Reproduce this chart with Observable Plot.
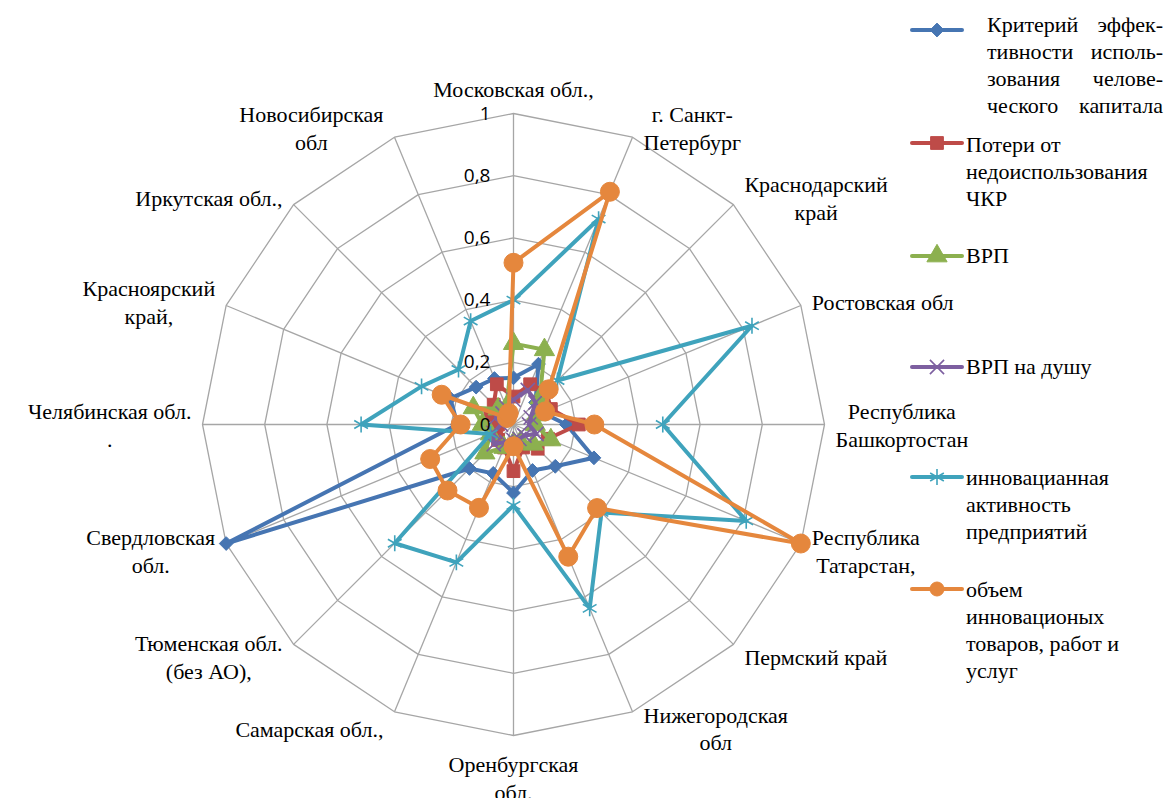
<!DOCTYPE html>
<html><head><meta charset="utf-8">
<script src="https://cdn.jsdelivr.net/npm/d3@7"></script>
<script src="https://cdn.jsdelivr.net/npm/@observablehq/plot@0.6"></script>
<style>
body{margin:0;background:#fff;}
</style></head><body>
<script>
// ---------- data ----------
const categories = [
  "Московская обл.,", "г. Санкт-\nПетербург", "Краснодарский\nкрай", "Ростовская обл",
  "Республика\nБашкортостан", "Республика\nТатарстан,", "Пермский край", "Нижегородская\nобл",
  "Оренбургская\nобл.", "Самарская обл.,", "Тюменская обл.\n(без АО),", "Свердловская\nобл.",
  "Челябинская обл.\n.", "Красноярский\nкрай,", "Иркутская обл.,", "Новосибирская\nобл"
];
const tickValues = [0, 0.2, 0.4, 0.6, 0.8, 1];
const tickLabels = ["0", "0,2", "0,4", "0,6", "0,8", "1"];
const seriesNames = [
  "Критерий эффективности использования человеческого капитала",
  "Потери от недоиспользования ЧКР",
  "ВРП",
  "ВРП на душу",
  "инновацианная активность предприятий",
  "объем инновационых товаров, работ и услуг"
];
const criterion  = [0.15, 0.21, 0.10, 0.10, 0.17, 0.28, 0.19, 0.16, 0.22, 0.17, 0.20, 1.00, 0.18, 0.22, 0.17, 0.16];
const losses     = [0.09, 0.14, 0.15, 0.13, 0.21, 0.12, 0.11, 0.08, 0.15, 0.08, 0.07, 0.06, 0.05, 0.08, 0.09, 0.14];
const grp        = [0.26, 0.26, 0.12, 0.08, 0.07, 0.13, 0.09, 0.06, 0.06, 0.08, 0.13, 0.08, 0.10, 0.14, 0.07, 0.06];
const grpPerCap  = [0.08, 0.12, 0.10, 0.06, 0.05, 0.08, 0.05, 0.05, 0.05, 0.06, 0.09, 0.07, 0.04, 0.06, 0.05, 0.06];
const innovAct   = [0.40, 0.715, 0.20, 0.83, 0.48, 0.81, 0.40, 0.64, 0.26, 0.48, 0.54, 0.08, 0.49, 0.32, 0.25, 0.36];
const innovGoods = [0.52, 0.81, 0.16, 0.11, 0.26, 1.00, 0.38, 0.46, 0.07, 0.29, 0.30, 0.29, 0.17, 0.25, 0.03, 0.04];

// ---------- styles ----------
const styles = [
  {values: criterion,  color: "#4675B2", symbol: "diamond2", r: 6.2, fill: true},
  {values: losses,     color: "#BE4B48", symbol: "square",   r: 7.2, fill: true},
  {values: grp,        color: "#8CB04F", symbol: "triangle", r: 7.5, fill: true},
  {values: grpPerCap,  color: "#7D5FA0", symbol: "times",    r: 6.5, fill: false},
  {values: innovAct,   color: "#3FA3BC", symbol: "asterisk", r: 7.5, fill: false},
  {values: innovGoods, color: "#E5873D", symbol: "circle",   r: 9.5, fill: true}
];
const SERIF = "Liberation Serif";
const SANS = "Open Sans";

const N = categories.length;
const ang = i => i * 2 * Math.PI / N;
const R = 311; // px per unit

const rings = tickValues.slice(1).flatMap(l => categories.map((c, i) => ({l, x: l * Math.sin(ang(i)), y: l * Math.cos(ang(i))})));
const spokes = categories.map((c, i) => ({x: Math.sin(ang(i)), y: Math.cos(ang(i))}));

const FS = 22, LH = 28;
const tmp = d3.select("body").append("svg").attr("width", 10).attr("height", 10);
const tt = tmp.append("text").attr("font-family", SERIF).attr("font-size", FS);
const measure = t => { tt.text(t); return tt.node().getComputedTextLength(); };
const labels = categories.map((c, i) => {
  const s = Math.sin(ang(i)), co = Math.cos(ang(i));
  const lines = c.split("\n");
  const w = Math.max(...lines.map(measure));
  const h = lines.length * LH;
  let ox = 0, oy;
  if (Math.abs(s) > 0.1) {
    ox = Math.sign(s) * (11 + w / 2);
    oy = co * (co > 0 ? 11 : 17);
  } else {
    oy = co * (h / 2 + (co > 0 ? 11 : 14));
  }
  return {text: c, x: s + ox / R, y: co + oy / R};
});
tmp.remove();

const ticks = tickValues.map((v, k) => ({v, t: tickLabels[k]}));

const marks = [
  Plot.line(rings, {x: "x", y: "y", z: "l", curve: "linear-closed", stroke: "#A6A6A6", strokeWidth: 1.3}),
  Plot.link(spokes, {x1: () => 0, y1: () => 0, x2: "x", y2: "y", stroke: "#A6A6A6", strokeWidth: 1.3})
];
for (const st of styles) {
  const pts = st.values.map((v, i) => ({x: v * Math.sin(ang(i)), y: v * Math.cos(ang(i))}));
  marks.push(Plot.line(pts, {x: "x", y: "y", curve: "linear-closed", stroke: st.color, strokeWidth: 4, strokeLinejoin: "round"}));
  marks.push(Plot.dot(pts, st.fill
    ? {x: "x", y: "y", symbol: st.symbol, r: st.r, fill: st.color, stroke: st.color, strokeWidth: 1}
    : {x: "x", y: "y", symbol: st.symbol, r: st.r, fill: "none", stroke: st.color, strokeWidth: 1.6}));
}
marks.push(Plot.text(labels, {x: "x", y: "y", text: "text", textAnchor: "middle", lineAnchor: "middle", lineHeight: LH / FS, fontFamily: SERIF, fontSize: FS, fill: "#000"}));
marks.push(Plot.text(ticks, {x: () => 0, y: "v", text: "t", textAnchor: "end", dx: -23, fontFamily: SANS, fontSize: 19, fill: "#000"}));

const chart = Plot.plot({
  width: 1164, height: 798,
  marginLeft: 202, marginRight: 340, marginTop: 113, marginBottom: 63,
  x: {domain: [-1, 1], axis: null},
  y: {domain: [-1, 1], axis: null},
  style: {background: "#fff", overflow: "visible"},
  marks
});
document.body.appendChild(chart);

// ---------- legend ----------
const legendText = [
  ["Критерий эффек-", "тивности исполь-", "зования  челове-", "ческого капитала"],
  ["Потери от", "недоиспользования", "ЧКР"],
  ["ВРП"],
  ["ВРП на душу"],
  ["инновацианная", "активность", "предприятий"],
  ["объем", "инновационых", "товаров, работ и", "услуг"]
];
const swatchY = [30, 143, 256, 367, 477, 589];
const textTop = [11, 131, 242, 353, 464, 576];
const symMap = {diamond2: d3.symbolDiamond2, square: d3.symbolSquare, triangle: d3.symbolTriangle, times: d3.symbolTimes, asterisk: d3.symbolAsterisk, circle: d3.symbolCircle};
styles.forEach((st, k) => {
  const svg = d3.select("body").append("svg").attr("width", 56).attr("height", 24)
    .style("position", "absolute").style("left", "909px").style("top", (swatchY[k] - 12) + "px");
  svg.append("line").attr("x1", 3).attr("x2", 53).attr("y1", 12).attr("y2", 12)
    .attr("stroke", st.color).attr("stroke-width", 4).attr("stroke-linecap", "round");
  const path = d3.symbol(symMap[st.symbol], st.symbol === "circle" ? Math.PI * 7 * 7 : Math.PI * st.r * st.r)();
  svg.append("path").attr("d", path).attr("transform", "translate(28,12)")
    .attr("fill", st.fill ? st.color : "none").attr("stroke", st.color).attr("stroke-width", st.fill ? 1 : 1.6);
  const div = document.createElement("div");
  div.style.position = "absolute";
  div.style.left = (k === 0 ? 987 : 966) + "px";
  div.style.top = textTop[k] + "px";
  div.style.fontFamily = SERIF;
  div.style.fontSize = "22px";
  div.style.lineHeight = "27px";
  div.style.color = "#000";
  legendText[k].forEach(t => {
    const line = document.createElement("div");
    line.style.fontFamily = SERIF;
    line.textContent = t;
    if (k === 0) { line.style.width = "176px"; line.style.textAlign = "justify"; line.style.textAlignLast = "justify"; }
    else line.style.whiteSpace = "nowrap";
    div.appendChild(line);
  });
  document.body.appendChild(div);
});
</script>
</body></html>
